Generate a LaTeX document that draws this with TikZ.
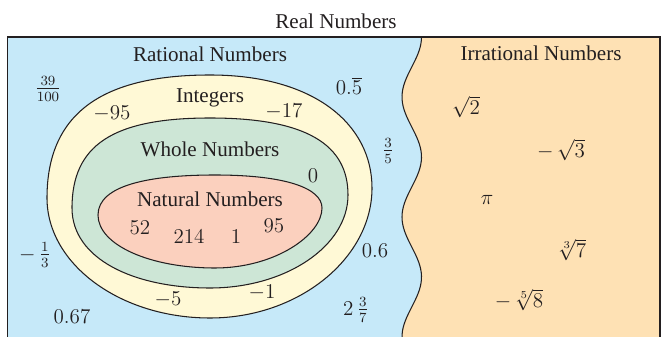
\documentclass[tikz,border=0pt]{standalone}
\usepackage{amsmath}
\usepackage{fontspec}
\setmainfont{Liberation Serif}
\usetikzlibrary{calc}

\definecolor{ink}{RGB}{35,31,32}
\definecolor{ratblue}{RGB}{198,233,249}
\definecolor{irrorange}{RGB}{254,225,180}
\definecolor{intyellow}{RGB}{255,249,214}
\definecolor{wholegreen}{RGB}{205,230,214}
\definecolor{natpink}{RGB}{251,208,190}

\begin{document}
\begin{tikzpicture}[x=0.02cm, y=-0.02cm,
  lbl/.style={font=\fontsize{12}{14}\selectfont, text=ink, inner sep=0pt, anchor=base},
  frc/.style={font=\fontsize{12}{14}\selectfont, text=ink, inner sep=0pt},
  region/.style={draw=ink, line width=0.6pt}]
\useasboundingbox (0,0) rectangle (662,337);
\clip (0,0) rectangle (662,337);

% the two halves of the real numbers
\fill[ratblue] (7.5,37) rectangle (660,345);
\fill[irrorange] (421.5,37) -- plot[domain=37:345, samples=90, smooth] ({411.75+9.75*cos(3*(\x-37))}, \x) -- (660,345) -- (660,37) -- cycle;
\draw[region] plot[domain=37:345, samples=90, smooth] ({411.75+9.75*cos(3*(\x-37))}, \x);
\draw[draw=ink, line width=0.75pt] (7.5,345) -- (7.5,37) -- (660,37) -- (660,345);

% integers
\draw[region, fill=intyellow] (47,198) .. controls (47,115) and (100,75) .. (210,75)
  .. controls (315,75) and (372,125) .. (372,188)
  .. controls (372,258) and (299,318) .. (210,318)
  .. controls (120,318) and (47,264) .. cycle;
% whole numbers
\draw[region, fill=wholegreen] (72,208) .. controls (72,145) and (113,118) .. (210,118)
  .. controls (307,118) and (348,145) .. (348,195)
  .. controls (348,246) and (286,288) .. (210,288)
  .. controls (134,288) and (72,259) .. cycle;
% natural numbers
\draw[region, fill=natpink] (98,215) .. controls (98,185) and (150,175) .. (215,175)
  .. controls (285,175) and (322,188) .. (322,208)
  .. controls (322,235) and (275,268) .. (215,268)
  .. controls (150,268) and (98,245) .. cycle;

% set names
\node[lbl] (real) at (336,29) {Real Numbers};
\node[lbl] (rational) at (210,62) {Rational Numbers};
\node[lbl] (irrational) at (541,61) {Irrational Numbers};
\node[lbl] (integers) at (210,103) {Integers};
\node[lbl] (whole) at (210,157) {Whole Numbers};
\node[lbl] (natural) at (210,207) {Natural Numbers};

% members
\foreach \x/\y/\val [count=\i] in {112/120/-95, 284/118/-17, 349/95/0.\overline{5}, 313/183/0,
  140/235/52, 189/244/214, 236/244/1, 274/233/95, 72/323/0.67, 168/306/-5, 262/298/-1,
  375/258/0.6, 466/115/\sqrt{2}, 561/158/-\,\sqrt{3}, 487/205/\pi, 572/258/\sqrt[3]{7},
  519/308/-\,\sqrt[5]{8}} {
  \node[lbl] (m\i) at (\x,\y) {$\val$};
}
\foreach \x/\y/\val [count=\i] in {48/89/\frac{39}{100}, 388/151/\frac{3}{5},
  35/255/-\,\frac{1}{3}, 356/310/2\,\frac{3}{7}} {
  \node[frc] (f\i) at (\x,\y) {$\val$};
}
\end{tikzpicture}
\end{document}
